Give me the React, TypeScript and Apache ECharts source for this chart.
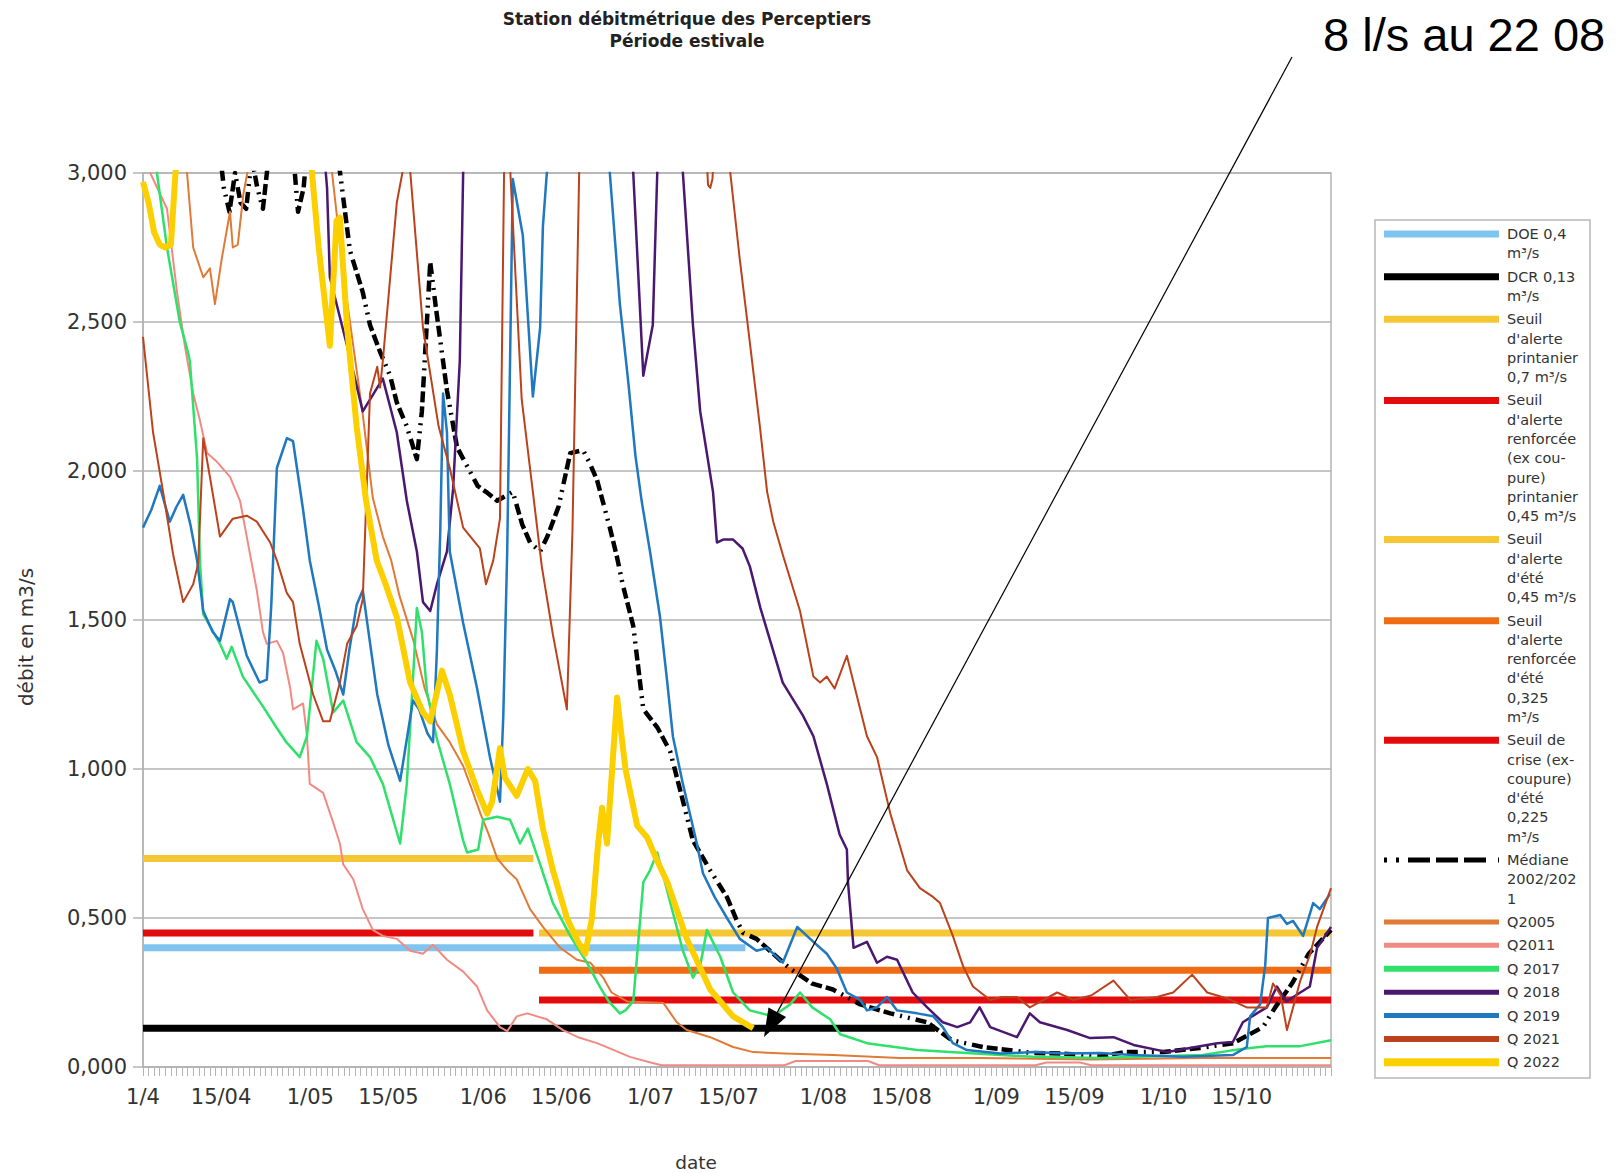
import React, { useEffect, useRef } from "react";
import * as echarts from "echarts";

const FONT = "DejaVu Sans";

// ---------- axes ----------
const xMax = 213; // days after 1 April (31/10)
const tickDays = [0, 14, 30, 44, 61, 75, 91, 105, 122, 136, 153, 167, 183, 197];
const tickLabels = ["1/4", "15/04", "1/05", "15/05", "1/06", "15/06", "1/07", "15/07", "1/08", "15/08", "1/09", "15/09", "1/10", "15/10"];
const yMin = 0;
const yMax = 3;
const yStep = 0.5;

// ---------- thresholds [day, m3/s] ----------
const doe = [[0, 0.4], [108, 0.4]];
const dcr = [[0, 0.13], [142, 0.13]];
const springAlert = [[0, 0.7], [70, 0.7]];
const springReinforced = [[0, 0.45], [70, 0.45]];
const summerAlert = [[71, 0.45], [213, 0.45]];
const summerReinforced = [[71, 0.325], [213, 0.325]];
const summerCrisis = [[71, 0.225], [213, 0.225]];

// ---------- flows [day, m3/s] ----------
const median = [[0, 3.5], [13, 3.2], [14.5, 2.95], [15.5, 2.87], [16.5, 3.0], [17.5, 2.9], [18.5, 2.88], [19.5, 3.05], [20.5, 2.95], [21.5, 2.88], [22.5, 3.05], [25, 3.3], [27, 3.05], [27.8, 2.87], [28.8, 2.95], [29.5, 3.1], [33, 3.3], [35, 3.05], [37.1, 2.74], [39.4, 2.6], [40.7, 2.49], [42.5, 2.4], [44.3, 2.32], [45.5, 2.23], [47.3, 2.15], [49.1, 2.04], [50, 2.2], [51.5, 2.7], [52.5, 2.55], [54.5, 2.27], [56.3, 2.08], [58, 2.02], [60, 1.95], [61.5, 1.93], [63.5, 1.9], [66.3, 1.93], [68, 1.82], [69.4, 1.76], [71.2, 1.73], [72.5, 1.78], [74.5, 1.88], [76.6, 2.06], [78.9, 2.07], [80, 2.03], [81.4, 1.97], [83.7, 1.81], [85, 1.71], [86, 1.62], [87.9, 1.48], [89.7, 1.2], [92.2, 1.14], [94.5, 1.06], [96.3, 0.93], [98.6, 0.76], [101.7, 0.66], [104.7, 0.57], [106.5, 0.49], [107.6, 0.45], [110, 0.43], [113, 0.38], [116, 0.33], [120, 0.28], [123.7, 0.26], [128.6, 0.21], [134, 0.18], [140.6, 0.15], [145, 0.09], [150.6, 0.067], [159.6, 0.047], [165, 0.045], [171.6, 0.035], [176, 0.05], [183, 0.05], [189.5, 0.064], [195.5, 0.08], [200.8, 0.134], [203, 0.2], [206, 0.28], [209, 0.38], [213, 0.46]];

const q2005 = [[0, 3.4], [7.9, 3.0], [9, 2.75], [10.8, 2.65], [12, 2.68], [12.9, 2.56], [14.1, 2.71], [15.6, 2.87], [16.1, 2.75], [17, 2.76], [18, 2.93], [19.2, 3.05], [21, 3.4], [32, 3.4], [33.9, 3.0], [36, 2.65], [39.4, 2.19], [41.2, 1.91], [43, 1.78], [44.5, 1.7], [46, 1.58], [48.5, 1.43], [50.5, 1.27], [52.7, 1.15], [55, 1.09], [57.4, 1.01], [59, 0.93], [60.5, 0.85], [62, 0.78], [63.5, 0.7], [65.3, 0.66], [67, 0.63], [69.4, 0.53], [71.7, 0.47], [74.8, 0.4], [77.8, 0.36], [80.2, 0.35], [82.5, 0.3], [84, 0.25], [86.8, 0.22], [93.3, 0.215], [95.7, 0.15], [97.5, 0.124], [101.7, 0.1], [105.8, 0.067], [109.4, 0.05], [115, 0.045], [123.7, 0.04], [135.7, 0.03], [150, 0.03], [170, 0.025], [190, 0.03], [213, 0.03]];

const q2011 = [[0, 3.4], [1.3, 3.0], [4.3, 2.88], [6.1, 2.6], [7.5, 2.42], [9, 2.26], [10.2, 2.17], [11.5, 2.06], [13.3, 2.03], [15.6, 1.98], [17.4, 1.9], [18.6, 1.78], [20.4, 1.6], [21.5, 1.46], [22.2, 1.42], [24, 1.43], [25.1, 1.39], [26.4, 1.27], [26.9, 1.2], [28.7, 1.22], [29.4, 1.11], [29.9, 0.95], [32.3, 0.92], [34.1, 0.82], [35.3, 0.75], [35.9, 0.68], [37.7, 0.63], [39.4, 0.53], [41.2, 0.46], [43, 0.44], [45.5, 0.43], [47.9, 0.39], [50.2, 0.38], [52, 0.41], [54.5, 0.36], [57.4, 0.32], [59.9, 0.27], [61.7, 0.19], [64, 0.134], [65.3, 0.12], [67, 0.17], [68.9, 0.18], [72.4, 0.16], [75.3, 0.124], [78, 0.1], [81.4, 0.08], [84, 0.06], [87.3, 0.034], [91, 0.015], [93, 0.006], [115, 0.006], [117, 0.02], [130, 0.02], [132, 0.006], [160, 0.006], [162, 0.015], [168, 0.015], [170, 0.006], [213, 0.006]];

const q2017 = [[0, 3.4], [2.5, 3.0], [4.3, 2.75], [6.6, 2.5], [7.9, 2.41], [8.4, 2.37], [9.7, 2.04], [10.2, 1.7], [10.8, 1.52], [12.3, 1.47], [13.8, 1.42], [15, 1.37], [15.9, 1.41], [17.9, 1.31], [19.7, 1.26], [21.5, 1.21], [23.9, 1.14], [25.7, 1.09], [28.1, 1.04], [29.4, 1.11], [31.1, 1.43], [32.3, 1.37], [34.1, 1.19], [35.9, 1.23], [38.3, 1.09], [40.7, 1.04], [43, 0.95], [46.1, 0.75], [47.3, 0.95], [48.4, 1.3], [49.1, 1.54], [50, 1.46], [50.9, 1.26], [52.7, 1.1], [55, 0.95], [57.4, 0.76], [58.1, 0.72], [60.1, 0.73], [61, 0.83], [63.5, 0.84], [65.8, 0.83], [67.6, 0.75], [69, 0.8], [71.2, 0.68], [73.5, 0.55], [76.6, 0.44], [79.6, 0.35], [81.9, 0.27], [83.5, 0.22], [85.5, 0.18], [86.5, 0.19], [87.9, 0.22], [89.7, 0.62], [90.9, 0.66], [92.2, 0.72], [94, 0.59], [96.8, 0.39], [98.6, 0.3], [99.9, 0.34], [101.1, 0.46], [103.5, 0.37], [105.8, 0.25], [108.8, 0.19], [113, 0.17], [116, 0.21], [117.8, 0.25], [120, 0.2], [123.2, 0.16], [125, 0.11], [129.8, 0.08], [138.8, 0.057], [147.7, 0.047], [159.6, 0.034], [171.6, 0.03], [180, 0.035], [190, 0.04], [195, 0.055], [198.5, 0.064], [201.5, 0.07], [207.5, 0.07], [213, 0.09]];

const q2018 = [[0, 3.5], [31, 3.4], [33, 2.95], [33.5, 2.65], [36.6, 2.42], [39.4, 2.2], [43, 2.31], [45.5, 2.13], [47.3, 1.9], [49.1, 1.73], [50.2, 1.56], [51.5, 1.53], [52.7, 1.62], [54.5, 1.73], [55.6, 1.94], [56.8, 2.37], [57.4, 3.0], [58.5, 3.4], [86, 3.4], [87.9, 3.0], [89.7, 2.32], [91.4, 2.49], [92.2, 3.0], [93.5, 3.4], [95.5, 3.4], [96.8, 3.0], [98.6, 2.49], [99.9, 2.2], [102.2, 1.93], [102.9, 1.76], [104, 1.77], [105.8, 1.77], [107.5, 1.74], [108.8, 1.68], [110.7, 1.54], [114.7, 1.29], [118.3, 1.18], [120.2, 1.11], [122.6, 0.95], [124.9, 0.78], [126.2, 0.73], [126.4, 0.62], [127.4, 0.4], [129.8, 0.42], [131.6, 0.35], [133.4, 0.37], [135.2, 0.36], [138, 0.25], [140.6, 0.2], [143.4, 0.15], [146, 0.134], [148.3, 0.15], [150, 0.2], [151.9, 0.134], [156.7, 0.1], [159, 0.18], [160.8, 0.15], [165.7, 0.124], [169.8, 0.097], [174, 0.1], [177.6, 0.074], [183.7, 0.05], [187.7, 0.064], [192.6, 0.08], [195.4, 0.084], [197.2, 0.15], [199.7, 0.18], [201.5, 0.2], [203.3, 0.27], [205, 0.22], [207.5, 0.25], [209.2, 0.27], [210.5, 0.4], [211.6, 0.43], [213, 0.47]];

const q2019 = [[0, 1.81], [1.5, 1.87], [3, 1.95], [4.8, 1.83], [6, 1.88], [7.2, 1.92], [8.5, 1.82], [9.7, 1.7], [10.8, 1.53], [12.5, 1.46], [13.8, 1.43], [15.6, 1.57], [16.1, 1.56], [18.6, 1.38], [20.9, 1.29], [22.2, 1.3], [23, 1.55], [24, 2.01], [25.8, 2.11], [26.9, 2.1], [28.7, 1.87], [29.9, 1.7], [31.5, 1.55], [33, 1.4], [34.5, 1.33], [35.9, 1.25], [37, 1.4], [38.3, 1.55], [39.4, 1.6], [40.5, 1.45], [42, 1.25], [44, 1.08], [46.1, 0.96], [47.3, 1.1], [48.4, 1.23], [49.5, 1.2], [51, 1.12], [52, 1.09], [52.7, 1.4], [53.3, 1.8], [53.8, 2.26], [54.5, 2.13], [55, 1.73], [57.4, 1.49], [59.9, 1.27], [62.2, 1.04], [64, 0.89], [64.6, 1.18], [65.3, 1.73], [66.3, 2.98], [68.1, 2.79], [69.9, 2.25], [71.2, 2.48], [71.7, 2.82], [72.6, 3.05], [74, 3.4], [82, 3.4], [83.7, 3.0], [85.5, 2.56], [87, 2.3], [88.3, 2.05], [89.4, 1.9], [90.9, 1.73], [92.7, 1.51], [94, 1.29], [95, 1.11], [96.8, 0.95], [99.3, 0.75], [100.4, 0.65], [102.5, 0.57], [104.7, 0.5], [107, 0.43], [110, 0.39], [111.9, 0.4], [114.7, 0.35], [117.3, 0.47], [120.2, 0.42], [122.6, 0.38], [124.4, 0.33], [126.2, 0.25], [128.6, 0.225], [129.8, 0.19], [131.6, 0.2], [133.4, 0.235], [135.2, 0.19], [138.8, 0.18], [141.7, 0.17], [143.4, 0.134], [145.2, 0.08], [147.7, 0.057], [153.7, 0.045], [159.6, 0.05], [165, 0.045], [171.6, 0.047], [177.5, 0.04], [186.5, 0.034], [195.4, 0.04], [197.9, 0.067], [198.5, 0.17], [200.3, 0.21], [201.2, 0.34], [201.7, 0.5], [203.9, 0.51], [205.1, 0.48], [206.2, 0.49], [208, 0.44], [209.8, 0.55], [211, 0.53], [212.8, 0.58]];

const q2021 = [[0, 2.45], [1.8, 2.13], [3.6, 1.93], [5.4, 1.72], [7.2, 1.56], [9, 1.62], [9.9, 1.69], [10.8, 2.11], [12, 1.98], [13.8, 1.78], [16.1, 1.84], [18.6, 1.85], [20.4, 1.83], [22.8, 1.76], [24, 1.7], [25.8, 1.59], [26.9, 1.56], [28.1, 1.42], [30.5, 1.25], [32.3, 1.16], [33.5, 1.16], [35.3, 1.29], [36.6, 1.42], [38.3, 1.48], [39.4, 1.57], [40.7, 2.26], [42, 2.35], [42.5, 2.28], [43, 2.37], [45.5, 2.9], [47.5, 3.1], [50.2, 2.48], [53, 2.15], [55, 2.01], [57.4, 1.81], [60.4, 1.74], [61.5, 1.62], [62.8, 1.7], [64, 1.84], [64.8, 3.1], [65.6, 3.1], [67.9, 2.24], [69.9, 1.93], [71.5, 1.68], [73.5, 1.45], [76, 1.2], [77, 1.8], [77.8, 2.6], [78.3, 3.1], [100.5, 3.3], [101.3, 2.96], [101.7, 2.95], [102.1, 2.98], [103, 3.3], [104.8, 3.3], [105.3, 3.0], [107, 2.71], [108.3, 2.51], [110.6, 2.15], [111.9, 1.93], [113, 1.83], [114.7, 1.72], [117.8, 1.53], [120.2, 1.31], [121.4, 1.29], [122.6, 1.31], [124, 1.27], [126.2, 1.38], [128.6, 1.2], [129.8, 1.11], [131.6, 1.04], [134, 0.85], [137, 0.66], [139.3, 0.6], [141.7, 0.57], [142.9, 0.55], [145.2, 0.44], [147, 0.34], [148.8, 0.27], [151.9, 0.225], [154, 0.235], [156.7, 0.235], [159, 0.2], [163.9, 0.25], [166.8, 0.225], [170, 0.24], [174, 0.29], [177, 0.225], [181.8, 0.235], [184.7, 0.25], [188.1, 0.31], [190.8, 0.25], [194.4, 0.23], [197.9, 0.2], [201.5, 0.2], [202.6, 0.28], [204, 0.24], [205.1, 0.124], [206.2, 0.2], [207.5, 0.29], [209.3, 0.38], [210.5, 0.47], [213, 0.6]];

const q2022 = [[0, 2.97], [1, 2.9], [2, 2.8], [3, 2.76], [4, 2.75], [5, 2.76], [6, 3.05], [7, 3.4], [29, 3.4], [30.3, 3.0], [31.5, 2.75], [33.5, 2.42], [34.7, 2.84], [35.3, 2.85], [36.6, 2.48], [38.3, 2.15], [40, 1.9], [41.9, 1.7], [43.5, 1.62], [45.5, 1.51], [47.9, 1.29], [50.2, 1.19], [51.5, 1.16], [53.6, 1.33], [55, 1.25], [57.4, 1.06], [59.9, 0.93], [61.7, 0.85], [62.6, 0.89], [64, 1.07], [64.9, 0.97], [67, 0.91], [69, 1.0], [70.3, 0.96], [71.7, 0.8], [73.5, 0.66], [76, 0.5], [78, 0.42], [79.3, 0.38], [80.5, 0.5], [81.6, 0.75], [82.3, 0.87], [83.2, 0.75], [85, 1.24], [86.5, 1.0], [88.6, 0.81], [90.4, 0.77], [92, 0.7], [94, 0.62], [97.5, 0.43], [101.7, 0.26], [105.8, 0.17], [109.4, 0.13]];

// ---------- series styles ----------
const MEDIAN_DASH = [2, 6, 2, 6, 11, 4, 11, 4, 11, 6];
const seriesDefs = [
  { name: "DOE 0,4 m³/s", label: ["DOE 0,4", "m³/s"], data: doe, color: "#7fc4ef", width: 7, legendWidth: 7 },
  { name: "DCR 0,13 m³/s", label: ["DCR 0,13", "m³/s"], data: dcr, color: "#000000", width: 7, legendWidth: 7 },
  { name: "Seuil d'alerte printanier 0,7 m³/s", label: ["Seuil", "d'alerte", "printanier", "0,7 m³/s"], data: springAlert, color: "#f6c735", width: 7, legendWidth: 7 },
  { name: "Seuil d'alerte renforcée (ex coupure) printanier 0,45 m³/s", label: ["Seuil", "d'alerte", "renforcée", "(ex cou-", "pure)", "printanier", "0,45 m³/s"], data: springReinforced, color: "#e30b0b", width: 7, legendWidth: 7 },
  { name: "Seuil d'alerte d'été 0,45 m³/s", label: ["Seuil", "d'alerte", "d'été", "0,45 m³/s"], data: summerAlert, color: "#f6c735", width: 7, legendWidth: 7 },
  { name: "Seuil d'alerte renforcée d'été 0,325 m³/s", label: ["Seuil", "d'alerte", "renforcée", "d'été", "0,325", "m³/s"], data: summerReinforced, color: "#f06c14", width: 7, legendWidth: 7 },
  { name: "Seuil de crise (ex-coupure) d'été 0,225 m³/s", label: ["Seuil de", "crise (ex-", "coupure)", "d'été", "0,225", "m³/s"], data: summerCrisis, color: "#e30b0b", width: 7, legendWidth: 7 },
  { name: "Médiane 2002/2021", label: ["Médiane", "2002/202", "1"], data: median, color: "#000000", width: 4.5, legendWidth: 5, dash: MEDIAN_DASH },
  { name: "Q2005", label: ["Q2005"], data: q2005, color: "#e07a36", width: 2, legendWidth: 5 },
  { name: "Q2011", label: ["Q2011"], data: q2011, color: "#f28a84", width: 2, legendWidth: 5 },
  { name: "Q 2017", label: ["Q 2017"], data: q2017, color: "#2fe06a", width: 2.5, legendWidth: 6 },
  { name: "Q 2018", label: ["Q 2018"], data: q2018, color: "#4b1870", width: 2.5, legendWidth: 5 },
  { name: "Q 2019", label: ["Q 2019"], data: q2019, color: "#1f78c0", width: 2.5, legendWidth: 5 },
  { name: "Q 2021", label: ["Q 2021"], data: q2021, color: "#bb421c", width: 2, legendWidth: 6 },
  { name: "Q 2022", label: ["Q 2022"], data: q2022, color: "#fcd000", width: 6, legendWidth: 8 },
];

// ---------- layout ----------
const GRID = { left: 143, top: 173, width: 1188, height: 894 };
const LEG = { x: 1375, y: 220, w: 215, h: 858, iconX1: 1384, iconX2: 1499, textX: 1507, firstY: 234, lineH: 19.26, gap: 4.14 };
const ARROW = { sx: 1292, sy: 57, tx: 764, ty: 1037, headLen: 28, halfW: 10 };

function buildLegend() {
  const els: any[] = [
    { type: "rect", shape: { x: LEG.x, y: LEG.y, width: LEG.w, height: LEG.h }, style: { fill: "#ffffff", stroke: "#b8b8b8", lineWidth: 1.5 }, z: 10 },
  ];
  let y = LEG.firstY;
  seriesDefs.forEach((s) => {
    els.push({
      type: "line",
      shape: { x1: LEG.iconX1, y1: y, x2: LEG.iconX2, y2: y },
      style: { stroke: s.color, lineWidth: s.legendWidth, lineDash: s.dash ? [3, 9, 3, 9, 22, 6, 22, 6, 22, 12] : null },
      z: 11,
    });
    els.push({
      type: "text",
      x: LEG.textX,
      y: y - LEG.lineH / 2,
      style: {
        text: s.label.join("\n"),
        fill: "#333333",
        fontSize: 14.5,
        fontFamily: FONT,
        lineHeight: LEG.lineH,
        textAlign: "left",
        textVerticalAlign: "top",
      },
      z: 11,
    });
    y += s.label.length * LEG.lineH + LEG.gap;
  });
  return els;
}

function buildArrow() {
  const dx = ARROW.tx - ARROW.sx;
  const dy = ARROW.ty - ARROW.sy;
  const len = Math.sqrt(dx * dx + dy * dy);
  const ux = dx / len;
  const uy = dy / len;
  const bx = ARROW.tx - ux * ARROW.headLen;
  const by = ARROW.ty - uy * ARROW.headLen;
  const px = -uy;
  const py = ux;
  return [
    { type: "line", shape: { x1: ARROW.sx, y1: ARROW.sy, x2: bx, y2: by }, style: { stroke: "#000", lineWidth: 1.2 }, z: 20 },
    {
      type: "polygon",
      shape: { points: [[ARROW.tx, ARROW.ty], [bx + px * ARROW.halfW, by + py * ARROW.halfW], [bx - px * ARROW.halfW, by - py * ARROW.halfW]] },
      style: { fill: "#000" },
      z: 20,
    },
  ];
}

export default function App() {
  const ref = useRef<HTMLDivElement>(null);
  useEffect(() => {
    document.body.style.margin = "0";
    if (!ref.current) return;
    const chart = echarts.init(ref.current, null, { renderer: "svg" });
    const labelMap: Record<number, string> = {};
    tickDays.forEach((d, i) => (labelMap[d] = tickLabels[i]));

    const option: any = {
      animation: false,
      backgroundColor: "#ffffff",
      title: {
        text: "Station débitmétrique des Perceptiers\nPériode estivale",
        left: 682,
        top: 3,
        textAlign: "center",
        textStyle: { fontFamily: FONT, fontSize: 17, fontWeight: "bold", color: "#222", lineHeight: 22 },
      },
      grid: { ...GRID, show: true, borderColor: "#b3b3b3", borderWidth: 1.5, backgroundColor: "transparent" },
      xAxis: {
        type: "value",
        min: 0,
        max: xMax,
        interval: 1,
        axisLine: { show: true, lineStyle: { color: "#b3b3b3", width: 1.5 } },
        axisTick: { show: true, length: 9, lineStyle: { color: "#b3b3b3", width: 1 } },
        splitLine: { show: false },
        axisLabel: {
          formatter: (v: number) => labelMap[Math.round(v)] ?? "",
          fontFamily: FONT,
          fontSize: 21,
          color: "#333",
          margin: 19,
        },
      },
      yAxis: {
        type: "value",
        min: yMin,
        max: yMax,
        interval: yStep,
        axisLine: { show: true, lineStyle: { color: "#b3b3b3", width: 1.5 } },
        axisTick: { show: true, length: 10, lineStyle: { color: "#b3b3b3", width: 1.5 } },
        splitLine: { show: true, lineStyle: { color: "#b3b3b3", width: 1.5 } },
        axisLabel: {
          formatter: (v: number) => v.toFixed(3).replace(".", ","),
          fontFamily: FONT,
          fontSize: 21,
          color: "#333",
          margin: 16,
        },
      },
      series: seriesDefs.map((s, i) => ({
        type: "line",
        name: s.name,
        data: s.data,
        symbol: "none",
        silent: true,
        clip: true,
        z: 2 + i * 0.01,
        lineStyle: { color: s.color, width: s.width, type: s.dash ?? "solid", join: "round" },
        itemStyle: { color: s.color },
      })),
      graphic: [
        {
          type: "text",
          x: 26,
          y: 637,
          rotation: Math.PI / 2,
          style: { text: "débit en m3/s", fill: "#333", fontSize: 20, fontFamily: FONT, textAlign: "center", textVerticalAlign: "middle" },
        },
        {
          type: "text",
          x: 696,
          y: 1162,
          style: { text: "date", fill: "#333", fontSize: 18.5, fontFamily: FONT, textAlign: "center", textVerticalAlign: "middle" },
        },
        {
          type: "text",
          x: 1323,
          y: 34,
          style: { text: "8 l/s au 22 08", fill: "#000", fontSize: 47, fontFamily: "Liberation Sans", textAlign: "left", textVerticalAlign: "middle" },
          z: 20,
        },
        ...buildArrow(),
        ...buildLegend(),
      ],
    };
    chart.setOption(option);
    return () => chart.dispose();
  }, []);
  return <div ref={ref} style={{ width: 1624, height: 1173 }} />;
}
